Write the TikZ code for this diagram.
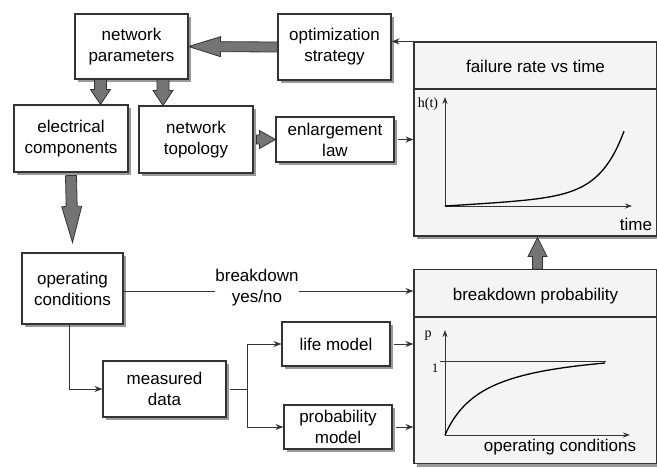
\documentclass[tikz,border=0pt]{standalone}
\usepackage{fontspec}
\setmainfont{Liberation Sans}
\newfontfamily\mathser{Liberation Serif}
\usetikzlibrary{calc,shadows,arrows.meta}
\definecolor{edge}{HTML}{333333}
\definecolor{arrfill}{HTML}{747474}
\definecolor{panel}{HTML}{F4F4F4}
\definecolor{shade}{HTML}{999999}
\tikzset{
  box/.style={draw=edge, line width=1.1pt, fill=white, align=center, inner sep=0pt,
    font=\fontsize{17}{21}\selectfont,
    drop shadow={shadow xshift=3pt,shadow yshift=-3pt,fill=shade,opacity=1}},
  panelbox/.style={box, fill=panel},
  thin/.style={draw=edge, line width=0.9pt, -{Stealth[length=8pt,width=6pt]}},
  fat/.style={draw=edge, line width=0.8pt, fill=arrfill},
  lbl/.style={font=\fontsize{17}{21}\selectfont, align=center, inner sep=0pt},
  axis/.style={draw=edge, line width=0.9pt, -{Stealth[length=7pt,width=5pt]}},
  curve/.style={draw=black, line width=1.3pt},
  mlbl/.style={font=\mathser\fontsize{14}{14}\selectfont, inner sep=0pt},
}
% #1 head length, #2 half shaft, #3 half head, #4 from, #5 to
\newcommand\fatarrow[5]{%
  \coordinate (fahead) at ($#5!#1!#4$);
  \draw[fat] ($#4!#2!90:#5$) -- ($(fahead)!#2!90:#5$) -- ($(fahead)!#3!90:#5$) -- #5
    -- ($(fahead)!#3!-90:#5$) -- ($(fahead)!#2!-90:#5$) -- ($#4!#2!-90:#5$) -- cycle;}
\begin{document}
\begin{tikzpicture}[x=1pt,y=-1pt]
\useasboundingbox (0,0) rectangle (657,467);
% big panels
\node[panelbox, minimum width=243pt, minimum height=194pt] (frbox) at (535.5,139) {};
\node[panelbox, minimum width=243pt, minimum height=194pt] (bpbox) at (535.5,366.5) {};
\draw[edge, line width=1.1pt] (frbox.west |- 0,89) -- (frbox.east |- 0,89);
\draw[edge, line width=1.1pt] (bpbox.west |- 0,317) -- (bpbox.east |- 0,317);
\node[lbl] (frt) at (535.5,66) {failure rate vs time};
\node[lbl] (bpt) at (535.5,296) {breakdown probability};
% small boxes
\node[box, minimum width=113pt, minimum height=65pt] (np) at (131.5,46.5) {network\\parameters};
\node[box, minimum width=113pt, minimum height=66pt] (os) at (334.5,47) {optimization\\strategy};
\node[box, minimum width=114pt, minimum height=67pt] (ec) at (71,138.5) {electrical\\components};
\node[box, minimum width=114pt, minimum height=67pt] (nt) at (196,139.5) {network\\topology};
\node[box, minimum width=118pt, minimum height=45pt] (el) at (335,139.5) {enlargement\\law};
\node[box, minimum width=101pt, minimum height=71pt] (oc) at (72.5,288.5) {operating\\conditions};
\node[box, minimum width=123pt, minimum height=56pt] (md) at (164.5,389) {measured\\data};
\node[box, minimum width=108pt, minimum height=44pt] (lm) at (336,344) {life model};
\node[box, minimum width=108pt, minimum height=44pt] (pm) at (338,427) {probability\\model};
% fat arrows
\fatarrow{32pt}{5pt}{10pt}{(os.west)}{(np.east)}
\coordinate (a1s) at ([xshift=-31pt]np.south);
\coordinate (a1e) at (a1s |- ec.north);
\fatarrow{15pt}{6pt}{10pt}{(a1s)}{(a1e)}
\coordinate (a2s) at ([xshift=31.5pt]np.south);
\coordinate (a2e) at (a2s |- nt.north);
\fatarrow{15pt}{6pt}{10pt}{(a2s)}{(a2e)}
\coordinate (a3s) at ([xshift=3pt]nt.east);
\fatarrow{16pt}{4.5pt}{9pt}{(a3s)}{(el.west)}
\coordinate (a4s) at ([yshift=-3pt]ec.south);
\coordinate (a4e) at ([yshift=10pt]oc.north);
\fatarrow{36pt}{5.5pt}{10pt}{(a4s)}{(a4e)}
\coordinate (ups) at ([xshift=2pt]bpbox.north);
\coordinate (upe) at ([yshift=-1pt]ups |- frbox.south);
\fatarrow{19pt}{5pt}{9.5pt}{(ups)}{(upe)}
% thin connectors
\draw[thin] (frbox.north west) -- (frbox.north west -| os.east) ;
\draw[thin] ([xshift=3pt]el.east) -- (el.east -| frbox.west);
\node[lbl] (bd) at (257,288) {breakdown\\yes/no};
\draw[edge, line width=0.9pt] (oc.east |- 0,291) -- (bd.west |- 0,291);
\draw[thin] (bd.east |- 0,291) -- (bpbox.west |- 0,291);
\coordinate (ocd) at (69,0);
\draw[thin] (ocd |- oc.south) |- (md.west);
\coordinate (split) at (247,389);
\draw[edge, line width=0.9pt] ([xshift=3pt]md.east) -- (split);
\draw[thin] (split) |- (lm.west);
\draw[thin] (split) |- (pm.west);
\draw[thin] ([xshift=3pt]lm.east) -- (lm.east -| bpbox.west);
\draw[thin] ([xshift=3pt]pm.east) -- (pm.east -| bpbox.west);
% plot h(t)
\coordinate (o1) at (445,206);
\draw[axis] (o1) -- (445,97);
\draw[axis] (o1) -- (632,206);
\node[mlbl] (ht) at (428,104) {h(t)};
\node[lbl] (tm) at (636,224) {time};
\draw[curve] plot[domain=0:179, samples=80, smooth] ({445+\x}, {206-(0.06*\x + 0.037*(exp(\x/24)-1))});
% plot p
\coordinate (o2) at (445,435);
\draw[axis] (o2) -- (445,330);
\draw[axis] (o2) -- (630,435);
\draw[edge, line width=0.8pt] (440,361) -- (606,361);
\node[mlbl] (pl) at (428,336) {p};
\node[mlbl, font=\mathser\fontsize{13}{13}\selectfont] (one) at (435,368) {1};
\node[lbl] (opc) at (560,447) {operating conditions};
\draw[curve] plot[domain=0:160, samples=60, smooth] ({445+\x}, {435-90*\x/(\x+40)});
\end{tikzpicture}
\end{document}
